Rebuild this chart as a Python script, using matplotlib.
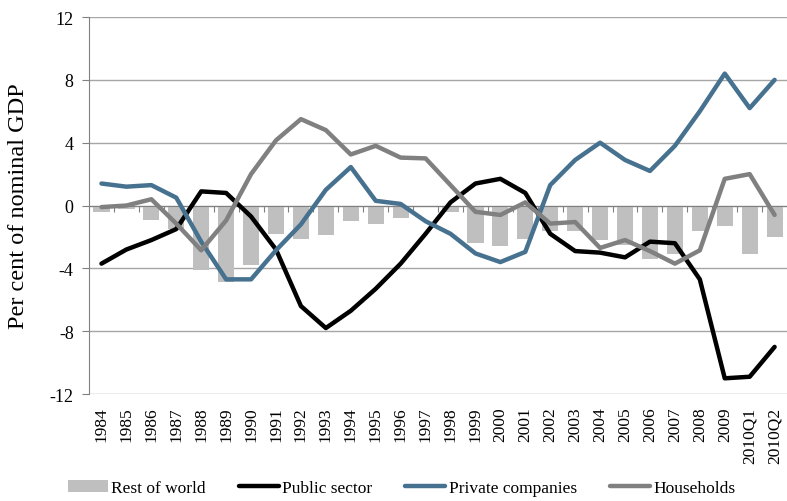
import matplotlib.pyplot as plt
import numpy as np

# Data (per cent of nominal GDP)
years = [str(y) for y in range(1984, 2010)] + ['2010Q1', '2010Q2']
rest_of_world = [-0.4, -0.2, -0.9, -1.5, -4.1, -4.9, -3.8, -1.8, -2.1, -1.9,
                 -1.0, -1.2, -0.8, -0.1, -0.4, -2.4, -2.6, -2.1, -1.6, -1.6,
                 -2.2, -2.5, -3.4, -3.1, -1.6, -1.3, -3.1, -2.0]
public_sector = [-3.7, -2.8, -2.2, -1.5, 0.9, 0.8, -0.7, -2.8, -6.4, -7.8,
                 -6.7, -5.3, -3.7, -1.8, 0.2, 1.4, 1.7, 0.8, -1.8, -2.9,
                 -3.0, -3.3, -2.3, -2.4, -4.7, -11.0, -10.9, -9.0]
private_companies = [1.4, 1.2, 1.3, 0.5, -2.3, -4.7, -4.7, -2.85, -1.2, 1.0,
                     2.45, 0.3, 0.1, -1.0, -1.8, -3.05, -3.6, -2.95, 1.3, 2.9,
                     4.0, 2.9, 2.2, 3.8, 6.0, 8.4, 6.2, 8.0]
households = [-0.1, 0.0, 0.4, -1.15, -2.85, -0.95, 2.0, 4.15, 5.5, 4.8,
              3.25, 3.8, 3.05, 3.0, 1.3, -0.4, -0.6, 0.2, -1.15, -1.05,
              -2.7, -2.2, -2.9, -3.7, -2.85, 1.7, 2.0, -0.6]

plt.rcParams['font.family'] = ['Liberation Serif', 'DejaVu Serif']
plt.rcParams['axes.unicode_minus'] = False

fig = plt.figure(figsize=(7.87, 5.02), dpi=100)
ax = fig.add_axes([0.1131, 0.2131, 0.887, 0.751])
x = np.arange(len(years))

bars = ax.bar(x, rest_of_world, width=0.65, color='#bfbfbf', label='Rest of world', zorder=2)
l1, = ax.plot(x, public_sector, color='black', lw=3.2, label='Public sector',
              solid_capstyle='round', zorder=3)
l2, = ax.plot(x, private_companies, color='#467290', lw=3.2, label='Private companies',
              solid_capstyle='round', zorder=3)
l3, = ax.plot(x, households, color='#808080', lw=3.2, label='Households',
              solid_capstyle='round', zorder=3)

ax.set_xlim(-0.5, len(years) - 0.5)
ax.set_ylim(-12, 12)
ax.set_yticks(np.arange(-12, 13, 4))
ax.yaxis.grid(True, color='#a6a6a6', lw=1)
ax.set_axisbelow(True)

for s in ['top', 'right']:
    ax.spines[s].set_visible(False)
ax.spines['bottom'].set_position(('data', 0))
ax.spines['bottom'].set_color('#808080')
ax.spines['bottom'].set_zorder(2.5)
ax.spines['left'].set_color('#808080')

# tick marks on the zero line between categories
ax.set_xticks(x[:-1] + 0.5)
ax.tick_params(axis='x', length=4, color='#808080', labelbottom=False)
ax.tick_params(axis='y', length=5, color='#808080', labelsize=13, pad=6)

# category labels at the bottom of the plot
sec = ax.secondary_xaxis(0)
sec.set_xticks(x, years, rotation=90)
sec.tick_params(length=0, pad=9, labelsize=12.5)
sec.spines['bottom'].set_visible(False)

fig.text(0.024, 0.59, 'Per cent of nominal GDP', rotation=90,
         va='center', ha='center', fontsize=17.5)

fig.legend([bars, l1, l2, l3],
           ['Rest of world', 'Public sector', 'Private companies', 'Households'],
           loc='center', bbox_to_anchor=(0.51, 0.026), ncol=4, frameon=False,
           handlelength=2.3, handletextpad=0.2, columnspacing=1.9, fontsize=12.5)

plt.savefig('out.png', dpi=100)
